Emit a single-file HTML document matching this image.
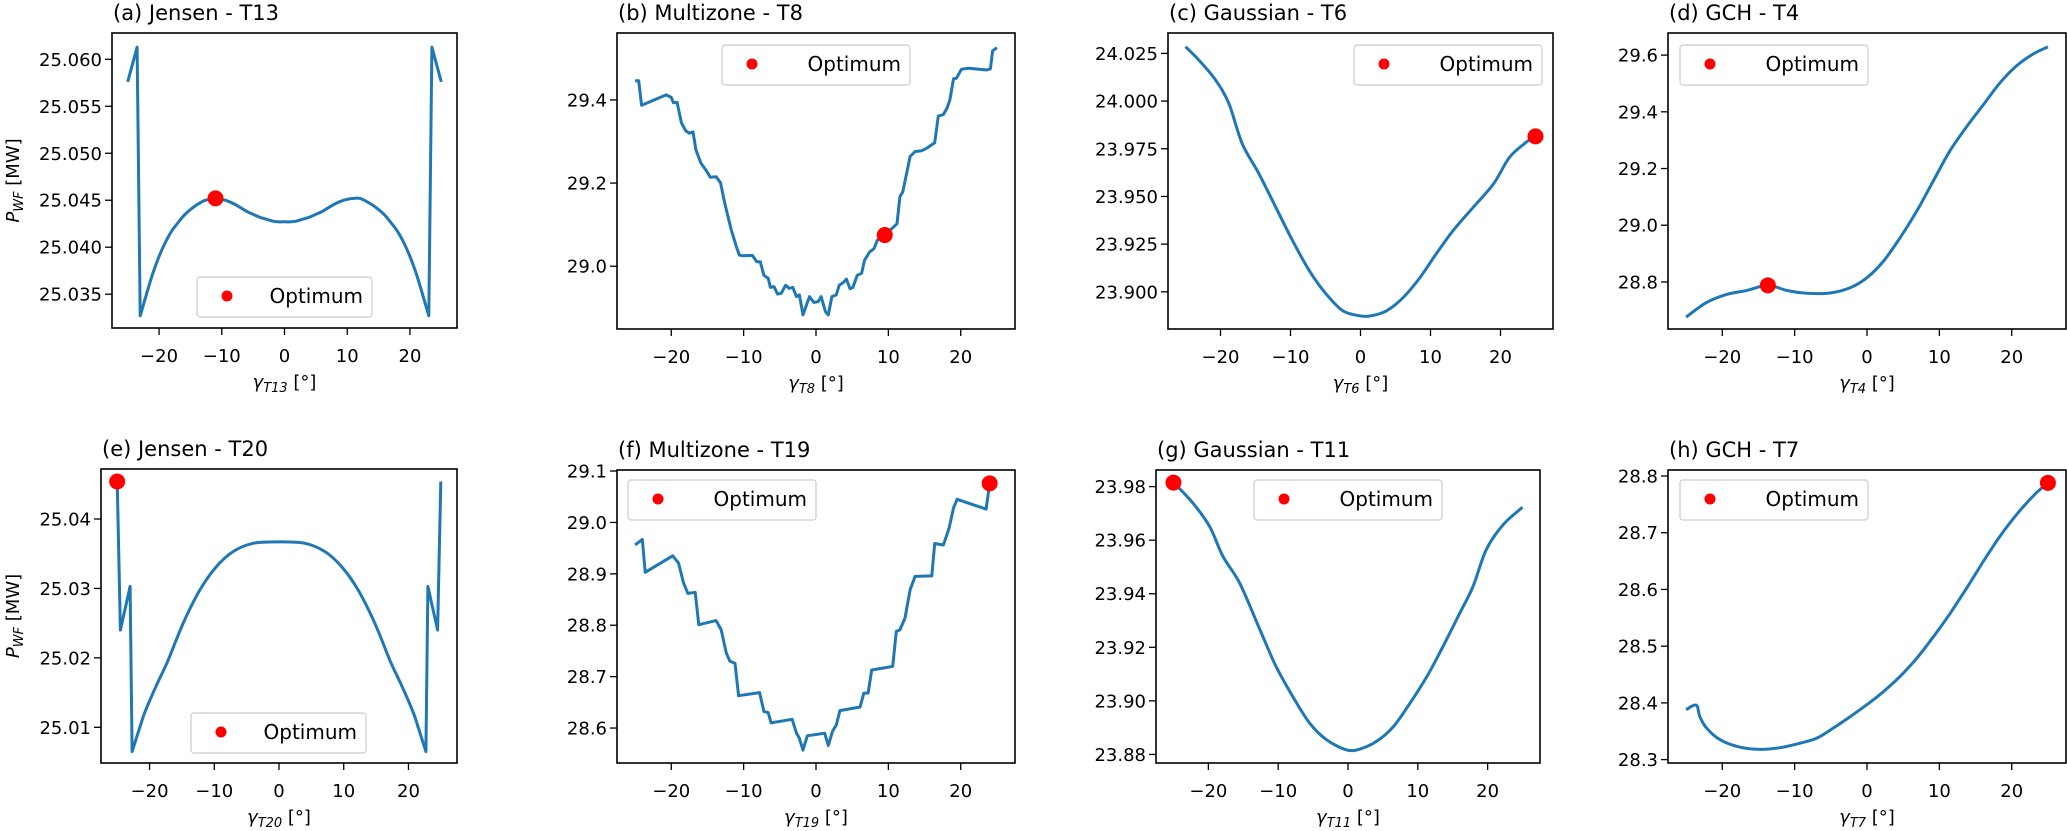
<!DOCTYPE html>
<html><head><meta charset="utf-8">
<style>
html,body{margin:0;padding:0;background:#fff;}
svg{display:block;font-family:"DejaVu Sans","Liberation Sans",sans-serif;}
</style></head>
<body>
<svg id="fig" width="2067" height="831" viewBox="0 0 2067 831" xmlns="http://www.w3.org/2000/svg"></svg>
<script>
// ---- data ----
const xTicks = [-20, -10, 0, 10, 20];
const xTickLabels = ["\u221220", "\u221210", "0", "10", "20"];

const aX = [-25,-23.5,-23,-22,-21,-20,-19,-18,-17,-16,-15,-14,-13,-12,-11,-10,-9,-8,-7,-6,-5,-4,-3,-2,-1,0,1,2,3,4,5,6,7,8,9,10,11,12,13,14,15,16,17,18,19,20,21,22,23,23.5,25];
const aY = [25.0576,25.0613,25.0327,25.0350,25.0372,25.0390,25.0405,25.0417,25.0426,25.0434,25.0440,25.0445,25.0449,25.0451,25.0452,25.0451,25.0449,25.0446,25.0442,25.0438,25.0435,25.0432,25.0430,25.0428,25.0427,25.0427,25.0427,25.0428,25.0430,25.0432,25.0435,25.0438,25.0442,25.0446,25.0449,25.0451,25.0452,25.0452,25.0449,25.0445,25.0440,25.0434,25.0426,25.0417,25.0405,25.0390,25.0372,25.0350,25.0327,25.0613,25.0576];
const aOpt = [-11, 25.0452];
const aYTicks = [25.035,25.040,25.045,25.050,25.055,25.060];
const aYLabels = ["25.035","25.040","25.045","25.050","25.055","25.060"];

const bX = [-25,-24.5,-24.1,-20.7,-20.0,-19.7,-19.2,-18.6,-18.0,-17.5,-17.0,-16.6,-15.9,-15.2,-14.6,-13.8,-13.2,-12.6,-11.7,-11.0,-10.6,-10.1,-8.8,-8.2,-7.7,-7.2,-6.6,-6.3,-5.8,-5.3,-4.8,-4.2,-3.7,-3.2,-2.7,-2.3,-1.8,-1.4,-0.9,-0.3,0.3,0.7,1.3,1.7,2.2,2.8,3.2,3.8,4.2,4.7,5.1,5.7,6.3,6.7,7.4,8.0,8.5,9.5,10.7,11.2,11.6,12.0,13.0,13.7,14.6,15.3,16.4,16.9,17.6,18.1,18.5,19.0,19.4,20.1,21.1,23.6,24.1,24.4,25.0];
const bY = [29.446,29.446,29.387,29.412,29.406,29.393,29.394,29.345,29.326,29.320,29.323,29.280,29.248,29.231,29.214,29.215,29.201,29.151,29.087,29.047,29.027,29.025,29.026,29.011,29.011,28.978,28.971,28.949,28.951,28.933,28.935,28.954,28.947,28.949,28.927,28.931,28.883,28.903,28.927,28.913,28.915,28.927,28.891,28.883,28.927,28.931,28.954,28.961,28.969,28.946,28.949,28.978,28.983,29.014,29.034,29.042,29.063,29.075,29.094,29.102,29.167,29.179,29.264,29.276,29.278,29.284,29.297,29.361,29.365,29.380,29.400,29.451,29.452,29.474,29.476,29.472,29.475,29.518,29.526];
const bOpt = [9.5, 29.075];
const bYTicks = [29.0,29.2,29.4];
const bYLabels = ["29.0","29.2","29.4"];

const cX = [-25,-23.1,-20.7,-18.8,-16.9,-14.5,-12.1,-9.7,-7.3,-4.9,-2.5,-0.1,1.5,3.7,6.1,8.5,10.8,13.2,16.1,19.0,21.3,23.7,25];
const cY = [24.0285,24.0215,24.011,23.9987,23.9777,23.9619,23.9443,23.9268,23.911,23.8988,23.890,23.8874,23.8874,23.890,23.897,23.9075,23.9198,23.932,23.9443,23.9566,23.9706,23.9785,23.9815];
const cOpt = [25, 23.9815];
const cYTicks = [23.900,23.925,23.950,23.975,24.000,24.025];
const cYLabels = ["23.900","23.925","23.950","23.975","24.000","24.025"];

const dX = [-25,-22.2,-19.4,-16.6,-13.7,-11.1,-8.3,-5.1,-2.3,0,2.3,4.6,6.9,9.2,11.5,13.9,16.2,18.5,20.8,23.1,25];
const dY = [28.676,28.727,28.756,28.770,28.788,28.770,28.760,28.761,28.780,28.815,28.874,28.957,29.051,29.158,29.264,29.352,29.429,29.506,29.565,29.606,29.629];
const dOpt = [-13.7, 28.788];
const dYTicks = [28.8,29.0,29.2,29.4,29.6];
const dYLabels = ["28.8","29.0","29.2","29.4","29.6"];

const eX = [-25,-24.5,-23,-22.7,-21,-19,-17.2,-14.8,-12.2,-9.7,-7.1,-4,0,4,7.1,9.7,12.2,14.8,17.2,19,21,22.7,23,24.5,25];
const eY = [25.0454,25.0240,25.0303,25.0065,25.0115,25.0159,25.0195,25.0250,25.0298,25.0331,25.0353,25.0365,25.0367,25.0365,25.0353,25.0331,25.0298,25.0250,25.0195,25.0159,25.0115,25.0065,25.0303,25.0240,25.0454];
const eOpt = [-25, 25.0454];
const eYTicks = [25.01,25.02,25.03,25.04];
const eYLabels = ["25.01","25.02","25.03","25.04"];

const fX = [-25,-24.0,-23.6,-19.8,-19.0,-18.3,-17.7,-16.7,-16.2,-13.8,-13.1,-12.4,-11.9,-11.2,-10.7,-7.8,-7.2,-6.6,-6.2,-3.3,-2.7,-2.3,-1.8,-1.2,1.2,1.7,2.3,2.8,3.3,6.1,6.6,7.2,7.7,10.6,11.1,11.6,12.3,13.0,13.7,16.0,16.4,17.6,18.4,19.0,19.5,23.5,24.0];
const fY = [28.956,28.967,28.903,28.935,28.921,28.882,28.862,28.864,28.801,28.809,28.791,28.746,28.730,28.726,28.663,28.669,28.632,28.630,28.610,28.617,28.590,28.580,28.557,28.585,28.590,28.566,28.594,28.606,28.634,28.641,28.668,28.668,28.713,28.720,28.788,28.791,28.814,28.869,28.895,28.896,28.959,28.956,28.989,29.028,29.045,29.026,29.076];
const fOpt = [24.0, 29.076];
const fYTicks = [28.6,28.7,28.8,28.9,29.0,29.1];
const fYLabels = ["28.6","28.7","28.8","28.9","29.0","29.1"];

const gX = [-25,-22.2,-19.8,-17.9,-15.5,-12.6,-10.3,-7.9,-5.5,-3.1,-0.2,1.7,4.1,6.5,8.9,11.3,13.6,16.0,17.9,19.8,22.2,25];
const gY = [23.9815,23.9738,23.965,23.9539,23.9439,23.9265,23.9128,23.9016,23.8917,23.8855,23.8817,23.882,23.8849,23.8904,23.8992,23.9091,23.9203,23.9327,23.9427,23.9564,23.9657,23.9723];
const gOpt = [-25, 23.9815];
const gYTicks = [23.88,23.90,23.92,23.94,23.96,23.98];
const gYLabels = ["23.88","23.90","23.92","23.94","23.96","23.98"];

const hX = [-25,-23.6,-23.1,-22.2,-20.3,-17.6,-14.8,-12.0,-9.2,-6.9,-4.6,-2.3,0,2.3,4.6,6.9,9.2,11.5,13.9,16.2,18.5,20.8,23.1,25];
const hY = [28.388,28.396,28.376,28.356,28.335,28.322,28.318,28.321,28.329,28.338,28.356,28.376,28.397,28.420,28.447,28.479,28.517,28.558,28.605,28.652,28.696,28.734,28.7665,28.788];
const hOpt = [25, 28.788];
const hYTicks = [28.3,28.4,28.5,28.6,28.7,28.8];
const hYLabels = ["28.3","28.4","28.5","28.6","28.7","28.8"];

// ---- layout ----
const NS = "http://www.w3.org/2000/svg";
const svg = document.getElementById("fig");
const XMIN = -27.5, XMAX = 27.5;
const panels = [
 {id:"a", title:"(a) Jensen - T13", sub:"T13", x0:112,x1:457,y0:33,y1:328, ymin:25.0314,ymax:25.0628, X:aX,Y:aY,opt:aOpt,yt:aYTicks,yl:aYLabels, leg:[197,277,175], ylab:true, smooth:true},
 {id:"b", title:"(b) Multizone - T8", sub:"T8", x0:617,x1:1015,y0:33,y1:329, ymin:28.849,ymax:29.561, X:bX,Y:bY,opt:bOpt,yt:bYTicks,yl:bYLabels, leg:[722,45,188]},
 {id:"c", title:"(c) Gaussian - T6", sub:"T6", x0:1168,x1:1553,y0:33,y1:329, ymin:23.8805,ymax:24.0357, X:cX,Y:cY,opt:cOpt,yt:cYTicks,yl:cYLabels, leg:[1354,45,188], smooth:true},
 {id:"d", title:"(d) GCH - T4", sub:"T4", x0:1668,x1:2066,y0:33,y1:329, ymin:28.634,ymax:29.678, X:dX,Y:dY,opt:dOpt,yt:dYTicks,yl:dYLabels, leg:[1680,45,188], smooth:true},
 {id:"e", title:"(e) Jensen - T20", sub:"T20", x0:101,x1:457,y0:469,y1:763, ymin:25.00486,ymax:25.0472, X:eX,Y:eY,opt:eOpt,yt:eYTicks,yl:eYLabels, leg:[191,713,175], ylab:true, smooth:true},
 {id:"f", title:"(f) Multizone - T19", sub:"T19", x0:617,x1:1015,y0:470,y1:763, ymin:28.532,ymax:29.102, X:fX,Y:fY,opt:fOpt,yt:fYTicks,yl:fYLabels, leg:[628,480,188]},
 {id:"g", title:"(g) Gaussian - T11", sub:"T11", x0:1156,x1:1540,y0:470,y1:763, ymin:23.8768,ymax:23.9862, X:gX,Y:gY,opt:gOpt,yt:gYTicks,yl:gYLabels, leg:[1254,480,188], smooth:true},
 {id:"h", title:"(h) GCH - T7", sub:"T7", x0:1668,x1:2066,y0:470,y1:763, ymin:28.294,ymax:28.8106, X:hX,Y:hY,opt:hOpt,yt:hYTicks,yl:hYLabels, leg:[1680,480,188], smooth:true}
];

function mk(tag, attrs, parent){
  const e = document.createElementNS(NS, tag);
  for (const k in attrs) e.setAttribute(k, attrs[k]);
  (parent||svg).appendChild(e);
  return e;
}

function smoothPath(P){
  // Catmull-Rom; segments with sharp turns (large vertical jumps) stay straight
  let d = "M" + P[0][0].toFixed(1) + "," + P[0][1].toFixed(1);
  for (let i = 0; i < P.length - 1; i++) {
    const p0 = P[Math.max(0,i-1)], p1 = P[i], p2 = P[i+1], p3 = P[Math.min(P.length-1,i+2)];
    const sharp = Math.abs(p2[1]-p1[1]) > 3*Math.abs(p2[0]-p1[0]) + 20 ||
                  Math.abs(p1[1]-p0[1]) > 3*Math.abs(p1[0]-p0[0]) + 20 ||
                  Math.abs(p3[1]-p2[1]) > 3*Math.abs(p3[0]-p2[0]) + 20;
    if (sharp) { d += " L" + p2[0].toFixed(1) + "," + p2[1].toFixed(1); continue; }
    const c1 = [p1[0] + (p2[0]-p0[0])/6, p1[1] + (p2[1]-p0[1])/6];
    const c2 = [p2[0] - (p3[0]-p1[0])/6, p2[1] - (p3[1]-p1[1])/6];
    d += " C" + c1[0].toFixed(1)+","+c1[1].toFixed(1)+" "+c2[0].toFixed(1)+","+c2[1].toFixed(1)+" "+p2[0].toFixed(1)+","+p2[1].toFixed(1);
  }
  return d;
}

panels.forEach(p => {
  const sx = v => p.x0 + (v - XMIN) / (XMAX - XMIN) * (p.x1 - p.x0);
  const sy = v => p.y1 - (v - p.ymin) / (p.ymax - p.ymin) * (p.y1 - p.y0);
  const g = mk("g", {});
  
  

  const t = mk("text", {x:p.x0+1, y:p.y0-13, "font-size":21, fill:"#000"}, g);
  t.textContent = p.title;
  
  

  const P = p.X.map((x,i) => [sx(x), sy(p.Y[i])]);
  let pl;
  if (p.smooth) {
    pl = mk("path", {d:smoothPath(P), fill:"none", stroke:"#1f77b4", "stroke-width":3, "stroke-linejoin":"round"}, g);
  } else {
    pl = mk("polyline", {points:P.map(q => q[0].toFixed(1)+","+q[1].toFixed(1)).join(" "), fill:"none", stroke:"#1f77b4", "stroke-width":3, "stroke-linejoin":"round"}, g);
  }
  
  

  const c = mk("circle", {cx:sx(p.opt[0]), cy:sy(p.opt[1]), r:8, fill:"#ff0000"}, g);
  
  

  const fr = mk("rect", {x:p.x0, y:p.y0, width:p.x1-p.x0, height:p.y1-p.y0, fill:"none", stroke:"#000", "stroke-width":1.6}, g);
  
  

  xTicks.forEach((v,i) => {
    const X = sx(v);
    const tk = mk("line", {x1:X, x2:X, y1:p.y1, y2:p.y1+7, stroke:"#000", "stroke-width":1.3}, g);
    
    
    const tl = mk("text", {x:X, y:p.y1+34, "font-size":18, "text-anchor":"middle", fill:"#000"}, g);
    tl.textContent = xTickLabels[i];
    
    
  });
  p.yt.forEach((v,i) => {
    const Y = sy(v);
    const tk = mk("line", {x1:p.x0-7, x2:p.x0, y1:Y, y2:Y, stroke:"#000", "stroke-width":1.3}, g);
    
    
    const tl = mk("text", {x:p.x0-10, y:Y+6.5, "font-size":18, "text-anchor":"end", fill:"#000"}, g);
    tl.textContent = p.yl[i];
    
    
  });

  const xl = mk("text", {x:(p.x0+p.x1)/2, y:p.y1+60, "font-size":18, "text-anchor":"middle", fill:"#000"}, g);
  xl.innerHTML = '<tspan font-style="italic">γ</tspan><tspan font-style="italic" font-size="13" dy="4">' + p.sub + '</tspan><tspan dy="-4"> [°]</tspan>';
  
  

  if (p.ylab) {
    const cy = (p.y0+p.y1)/2;
    const yl = mk("text", {x:0, y:0, "font-size":18, "text-anchor":"middle", fill:"#000", transform:"translate(19," + cy + ") rotate(-90)"}, g);
    yl.innerHTML = '<tspan font-style="italic">P</tspan><tspan font-style="italic" font-size="13" dy="4">WF</tspan><tspan dy="-4"> [MW]</tspan>';
    
    
  }

  const lg = mk("g", {}, g);
  
  
  const lx = p.leg[0], ly = p.leg[1], lw = p.leg[2];
  mk("rect", {x:lx, y:ly, width:lw, height:40, rx:3, fill:"#fff", "fill-opacity":0.85, stroke:"#cccccc", "stroke-width":1.2}, lg);
  const ld = mk("circle", {cx:lx+30, cy:ly+19, r:5.5, fill:"#ff0000"}, lg);
  
  
  const lt = mk("text", {x:lx+lw-9, y:ly+26, "font-size":20, "text-anchor":"end", fill:"#000"}, lg);
  lt.textContent = "Optimum";
  
  
});
</script>
</body></html>
